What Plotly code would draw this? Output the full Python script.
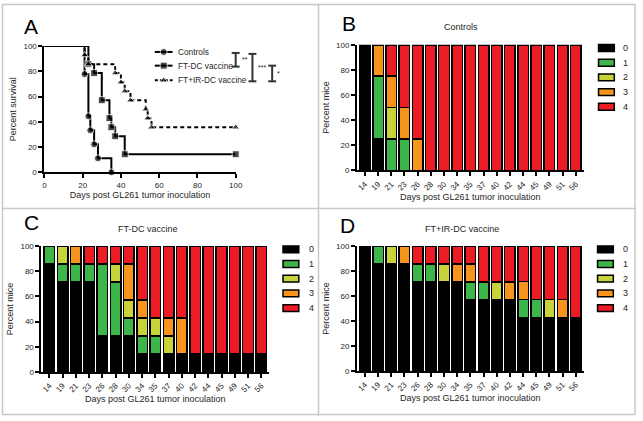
import plotly.graph_objects as go

W, H = 643, 421

# ---------------- Panel A: Kaplan-Meier survival ----------------
ctrl_days = [0, 21, 23, 24, 26, 28, 35]
ctrl_surv = [100, 77.8, 44.4, 33.3, 22.2, 11.1, 0]
ftdc_days = [0, 23, 26, 30, 34, 35, 37, 42, 100]
ftdc_surv = [100, 85.7, 78.6, 57.1, 42.9, 35.7, 28.6, 14.3, 14.3]
irdc_days = [0, 21, 23, 37, 40, 42, 45, 53, 54, 56, 100]
irdc_surv = [100, 92.9, 85.7, 78.6, 71.4, 64.3, 57.1, 50.0, 42.9, 35.7, 35.7]
surv_names = ["Controls", "FT-DC vaccine", "FT+IR-DC vaccine"]

# ---------------- Panels B-D: tumor grade distribution ----------------
days = ["14", "19", "21", "23", "26", "28", "30", "34", "35", "37", "40", "42", "44", "45", "49", "51", "56"]
grades = ["0", "1", "2", "3", "4"]

ctrl_g0 = [100, 25, 0, 0, 0, 0, 0, 0, 0, 0, 0, 0, 0, 0, 0, 0, 0]
ctrl_g1 = [0, 50, 25, 25, 0, 0, 0, 0, 0, 0, 0, 0, 0, 0, 0, 0, 0]
ctrl_g2 = [0, 0, 25, 0, 0, 0, 0, 0, 0, 0, 0, 0, 0, 0, 0, 0, 0]
ctrl_g3 = [0, 25, 25, 25, 25, 0, 0, 0, 0, 0, 0, 0, 0, 0, 0, 0, 0]
ctrl_g4 = [0, 0, 25, 50, 75, 100, 100, 100, 100, 100, 100, 100, 100, 100, 100, 100, 100]

ftdc_g0 = [85.7, 71.4, 71.4, 71.4, 28.6, 28.6, 28.6, 14.3, 14.3, 14.3, 14.3, 14.3, 14.3, 14.3, 14.3, 14.3, 14.3]
ftdc_g1 = [14.3, 14.3, 14.3, 14.3, 57.1, 42.9, 14.3, 14.3, 14.3, 0, 0, 0, 0, 0, 0, 0, 0]
ftdc_g2 = [0, 14.3, 0, 0, 0, 14.3, 14.3, 14.3, 14.3, 14.3, 0, 0, 0, 0, 0, 0, 0]
ftdc_g3 = [0, 0, 14.3, 0, 0, 0, 28.6, 14.3, 0, 14.3, 28.6, 0, 0, 0, 0, 0, 0]
ftdc_g4 = [0, 0, 0, 14.3, 14.3, 14.3, 14.3, 42.9, 57.1, 57.1, 57.1, 85.7, 85.7, 85.7, 85.7, 85.7, 85.7]

irdc_g0 = [100, 85.7, 85.7, 85.7, 71.4, 71.4, 71.4, 71.4, 57.1, 57.1, 57.1, 57.1, 42.9, 42.9, 42.9, 42.9, 42.9]
irdc_g1 = [0, 14.3, 0, 0, 14.3, 14.3, 0, 0, 14.3, 14.3, 0, 0, 14.3, 14.3, 0, 0, 0]
irdc_g2 = [0, 0, 14.3, 0, 0, 0, 14.3, 0, 0, 0, 14.3, 0, 0, 0, 14.3, 0, 0]
irdc_g3 = [0, 0, 0, 14.3, 0, 0, 0, 14.3, 14.3, 0, 0, 14.3, 14.3, 0, 0, 14.3, 0]
irdc_g4 = [0, 0, 0, 0, 14.3, 14.3, 14.3, 14.3, 14.3, 28.6, 28.6, 28.6, 28.6, 42.9, 42.9, 42.9, 57.1]

panel_titles = ["Controls", "FT-DC vaccine", "FT+IR-DC vaccine"]
xlabel = "Days post GL261 tumor inoculation"

grade_colors = ["#000000", "#3cb64a", "#c8d23a", "#f7941e", "#ec1c24"]
FONT = "Arial, Liberation Sans, sans-serif"
TXT = "#262626"


def px(x):
    return x / W


def py(y):
    return 1 - y / H


fig = go.Figure()

# survival curves
styles = [
    dict(dash="solid", symbol="circle"),
    dict(dash="solid", symbol="square"),
    dict(dash="4px,3px", symbol="triangle-up"),
]
for dx, sy, st, nm in zip([ctrl_days, ftdc_days, irdc_days], [ctrl_surv, ftdc_surv, irdc_surv], styles, surv_names):
    sizes = [0] + [7] * (len(dx) - 1)
    fig.add_trace(go.Scatter(
        x=dx, y=sy, mode="lines+markers", name=nm, line_shape="hv",
        line=dict(color="black", width=2, dash=st["dash"]),
        marker=dict(symbol=st["symbol"], size=sizes, color="black"),
        cliponaxis=False, showlegend=False, xaxis="x", yaxis="y"))

# stacked bars
panels = [
    ([ctrl_g0, ctrl_g1, ctrl_g2, ctrl_g3, ctrl_g4], "x2", "y2"),
    ([ftdc_g0, ftdc_g1, ftdc_g2, ftdc_g3, ftdc_g4], "x3", "y3"),
    ([irdc_g0, irdc_g1, irdc_g2, irdc_g3, irdc_g4], "x4", "y4"),
]
for series, xa, ya in panels:
    for g, vals, col in zip(grades, series, grade_colors):
        fig.add_trace(go.Bar(
            x=days, y=[v if v > 0 else None for v in vals], name=g,
            marker=dict(color=col, line=dict(color="black", width=1.5)),
            xaxis=xa, yaxis=ya, showlegend=False))

# overlay pixel axis for legend samples
leg_rows = [49, 63, 78]
for (dx, st, ry) in zip(surv_names, styles, leg_rows):
    fig.add_trace(go.Scatter(
        x=[155, 164, 173], y=[ry, ry, ry], mode="lines+markers",
        line=dict(color="black", width=2, dash="3px,2px" if st["dash"] != "solid" else "solid"),
        marker=dict(symbol=st["symbol"], size=[0, 7, 0], color="black"),
        xaxis="x5", yaxis="y5", showlegend=False, hoverinfo="skip"))

axis_common = dict(showline=True, linecolor="black", linewidth=2, ticks="outside",
                   ticklen=4, tickwidth=1.5, tickcolor="black", showgrid=False, zeroline=False,
                   tickfont=dict(size=8, color=TXT, family=FONT))
title_font = dict(size=9, color=TXT, family=FONT)

layout = dict(
    width=W, height=H, margin=dict(l=0, r=0, t=0, b=0),
    paper_bgcolor="white", plot_bgcolor="rgba(0,0,0,0)", barmode="stack", bargap=0.2,
    font=dict(family=FONT, color=TXT),
    xaxis=dict(domain=[px(43), px(237)], range=[0, 100], tickvals=[0, 20, 40, 60, 80, 100],
               title=dict(text=xlabel, standoff=2, font=title_font), anchor="y", **axis_common),
    yaxis=dict(domain=[py(172), py(43)], range=[0, 100], tickvals=[0, 20, 40, 60, 80, 100],
               title=dict(text="Percent survival", standoff=5, font=title_font), anchor="x", **axis_common),
    xaxis5=dict(domain=[0, 1], range=[0, W], visible=False, fixedrange=True, anchor="y5"),
    yaxis5=dict(domain=[0, 1], range=[H, 0], visible=False, fixedrange=True, anchor="x5"),
)
bar_dom = {
    "2": ([px(360), px(590)], [py(170), py(41.7)]),
    "3": ([px(40), px(271)], [py(376), py(247.3)]),
    "4": ([px(360), px(590)], [py(375), py(247.3)]),
}
for k, (xd, yd) in bar_dom.items():
    layout["xaxis" + k] = dict(domain=xd, type="category", tickangle=-45, anchor="y" + k,
                               range=[-0.6, len(days) - 0.4],
                               title=dict(text=xlabel, standoff=1, font=title_font), **axis_common)
    layout["yaxis" + k] = dict(domain=yd, range=[0, 100], tickvals=[0, 20, 40, 60, 80, 100],
                               anchor="x" + k, title=dict(text="Percent mice", standoff=5, font=title_font),
                               **axis_common)

annotations = []
shapes = []


def note(text, x, y, size, xanchor="center", color=TXT):
    annotations.append(dict(text=text, x=px(x), y=py(y), xref="paper", yref="paper",
                            xanchor=xanchor, yanchor="middle", showarrow=False,
                            font=dict(size=size, color=color, family=FONT)))


# panel letters and titles
for letter, x, y in [("A", 29, 23), ("B", 352, 20), ("C", 30, 223), ("D", 350, 226)]:
    note(letter, x, y, 21, color="black")
for t, x, y in zip(panel_titles, [466, 148, 467], [24, 230, 230]):
    note(t, x, y, 9)

# panel A legend labels
for nm, ry in zip(surv_names, leg_rows):
    note(nm, 176, ry, 8.3, xanchor="left")

# significance brackets
for (bx, y0, y1, lab, lx, ly) in [(237, 50, 64, "**", 241, 57), (254, 51, 79, "***", 258, 65),
                                  (274, 63, 79, "*", 277, 71)]:
    shapes.append(dict(type="line", xref="paper", yref="paper", x0=px(bx), x1=px(bx), y0=py(y0), y1=py(y1),
                       line=dict(color="#333", width=2)))
    for yy in (y0, y1):
        shapes.append(dict(type="line", xref="paper", yref="paper", x0=px(bx - 4), x1=px(bx + 4),
                           y0=py(yy), y1=py(yy), line=dict(color="#333", width=2)))
    note(lab, lx, ly, 7, xanchor="left")

# bar legends (manual swatches)
for sx, lx, y0 in [(605, 628, 45), (285, 309, 250.7), (604, 628, 250.7)]:
    for i, (g, col) in enumerate(zip(grades, grade_colors)):
        yy = y0 + 15 * i
        shapes.append(dict(type="rect", xref="paper", yref="paper", x0=px(sx), x1=px(sx + 16),
                           y0=py(yy - 3.5), y1=py(yy + 3.5), fillcolor=col,
                           line=dict(color="black", width=1.5)))
        note(g, lx, yy, 9, xanchor="left")

# panel borders
gray = "#c8c8c8"
shapes.append(dict(type="rect", xref="paper", yref="paper", x0=px(0.5), x1=px(642), y0=py(0.5), y1=py(419.5),
                   line=dict(color=gray, width=1.5)))
shapes.append(dict(type="line", xref="paper", yref="paper", x0=px(321), x1=px(321), y0=py(0), y1=py(421),
                   line=dict(color=gray, width=1.5)))
shapes.append(dict(type="line", xref="paper", yref="paper", x0=px(0), x1=px(643), y0=py(209), y1=py(209),
                   line=dict(color=gray, width=1.5)))

layout["annotations"] = annotations
layout["shapes"] = shapes
fig.update_layout(**layout)
fig.write_html("out.html", config={"displayModeBar": False},
               post_script="document.body.style.margin='0';")
